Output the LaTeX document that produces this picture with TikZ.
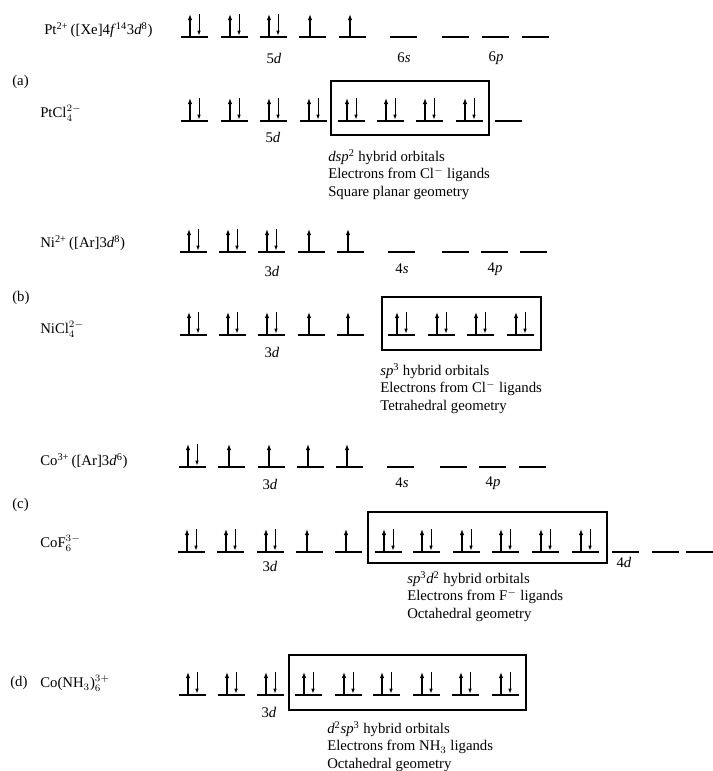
\documentclass[tikz,border=0pt]{standalone}
\usepackage{fontspec}
\setmainfont{Liberation Serif}
\usetikzlibrary{arrows.meta}
\newcommand\lbfont{\fontsize{10.5}{12.2}\selectfont}
\tikzset{
  orb-line/.style={line width=1pt},
  spin-up/.style={line width=1.1pt,-{Latex[length=1.5mm,width=1.1mm]}},
  spin-dn/.style={line width=0.6pt,-{Latex[length=1.2mm,width=0.9mm]}},
  hyb-box/.style={line width=0.8pt},
  lbl/.style={anchor=west,inner sep=0pt,font=\lbfont},
  sub-lbl/.style={inner sep=0pt,font=\lbfont},
  hyb-text/.style={anchor=north west,inner sep=0pt,align=left,font=\lbfont},
  % one orbital: a bar, with two, one or no electrons
  orb-pair/.pic={\draw[orb-line] (0,0) -- (27,0);
    \draw[spin-up] (9,0) -- (9,-23);
    \draw[spin-dn] (18,-23) -- (18,-1.5);},
  orb-up/.pic={\draw[orb-line] (0,0) -- (27,0);
    \draw[spin-up] (11,0) -- (11,-23);},
  orb-empty/.pic={\draw[orb-line] (0,0) -- (27,0);},
}
\begin{document}
\begin{tikzpicture}[x=0.25mm,y=-0.25mm]
  \useasboundingbox (0,0) rectangle (713,771);

  % (a) Pt(II)
  \node[lbl] (pt) at (44,30)
    {Pt\textsuperscript{2+}\,([Xe]4\textit{f}\textsuperscript{14}3\textit{d}\textsuperscript{8})};
  \foreach \x in {181,221,260} \pic at (\x,37) {orb-pair};
  \foreach \x in {299,339} \pic at (\x,37) {orb-up};
  \foreach \x in {390,442,482,522} \pic at (\x,37) {orb-empty};
  \node[sub-lbl] (pt-5d) at (274,58) {5\textit{d}};
  \node[sub-lbl] (pt-6s) at (404,58) {6\textit{s}};
  \node[sub-lbl] (pt-6p) at (496,58) {6\textit{p}};
  \node[lbl] (tag-a) at (12,82) {(a)};

  \node[lbl] (ptcl) at (40,113) {PtCl$_4^{2-}$};
  \foreach \x in {181,221,260,300,338,377,416,456} \pic at (\x,121) {orb-pair};
  \pic at (495,121) {orb-empty};
  \draw[hyb-box] (331,81) rectangle (489,135);
  \node[sub-lbl] (ptcl-5d) at (273,137) {5\textit{d}};
  \node[hyb-text] (ptcl-hyb) at (328,149)
    {\textit{dsp}\textsuperscript{2} hybrid orbitals\\
     Electrons from Cl\textsuperscript{$-$} ligands\\
     Square planar geometry};

  % (b) Ni(II)
  \node[lbl] (ni) at (40,243)
    {Ni\textsuperscript{2+}\,([Ar]3\textit{d}\textsuperscript{8})};
  \foreach \x in {180,219,258} \pic at (\x,252) {orb-pair};
  \foreach \x in {298,337} \pic at (\x,252) {orb-up};
  \foreach \x in {388,442,481,520} \pic at (\x,252) {orb-empty};
  \node[sub-lbl] (ni-3d) at (272,271) {3\textit{d}};
  \node[sub-lbl] (ni-4s) at (402,269) {4\textit{s}};
  \node[sub-lbl] (ni-4p) at (495,269) {4\textit{p}};
  \node[lbl] (tag-b) at (12,298) {(b)};

  \node[lbl] (nicl) at (40,329) {NiCl$_4^{2-}$};
  \foreach \x in {180,219,258,388,428,467,507} \pic at (\x,335) {orb-pair};
  \foreach \x in {298,337} \pic at (\x,335) {orb-up};
  \draw[hyb-box] (382,297) rectangle (541,350);
  \node[sub-lbl] (nicl-3d) at (272,352) {3\textit{d}};
  \node[hyb-text] (nicl-hyb) at (380,363)
    {\textit{sp}\textsuperscript{3} hybrid orbitals\\
     Electrons from Cl\textsuperscript{$-$} ligands\\
     Tetrahedral geometry};

  % (c) Co(III), high spin
  \node[lbl] (co) at (40,461)
    {Co\textsuperscript{3+}\,([Ar]3\textit{d}\textsuperscript{6})};
  \pic at (179,467) {orb-pair};
  \foreach \x in {218,258,297,336} \pic at (\x,467) {orb-up};
  \foreach \x in {387,440,479,519} \pic at (\x,467) {orb-empty};
  \node[sub-lbl] (co-3d) at (270,484) {3\textit{d}};
  \node[sub-lbl] (co-4s) at (402,483) {4\textit{s}};
  \node[sub-lbl] (co-4p) at (493,483) {4\textit{p}};
  \node[lbl] (tag-c) at (12,505) {(c)};

  \node[lbl] (cof) at (40,543) {CoF$_6^{3-}$};
  \foreach \x in {178,217,257,375,413,453,492,532,572} \pic at (\x,552) {orb-pair};
  \foreach \x in {296,335} \pic at (\x,552) {orb-up};
  \foreach \x in {612,652,686} \pic at (\x,552) {orb-empty};
  \draw[hyb-box] (368,512) rectangle (607,563);
  \node[sub-lbl] (cof-3d) at (270,566) {3\textit{d}};
  \node[sub-lbl] (cof-4d) at (624,562) {4\textit{d}};
  \node[hyb-text] (cof-hyb) at (407,571)
    {\textit{sp}\textsuperscript{3}\textit{d}\textsuperscript{2} hybrid orbitals\\
     Electrons from F\textsuperscript{$-$} ligands\\
     Octahedral geometry};

  % (d) Co(III), low spin
  \node[lbl] (tag-d) at (10,683) {(d)};
  \node[lbl] (coam) at (40,683) {Co(NH$_3$)$_6^{3+}$};
  \foreach \x in {179,218,257,295,335,373,413,452,492} \pic at (\x,695) {orb-pair};
  \draw[hyb-box] (289,655) rectangle (526,710);
  \node[sub-lbl] (coam-3d) at (269,712) {3\textit{d}};
  \node[hyb-text] (coam-hyb) at (327,721)
    {\textit{d}\textsuperscript{2}\textit{sp}\textsuperscript{3} hybrid orbitals\\
     Electrons from NH$_3$ ligands\\
     Octahedral geometry};
\end{tikzpicture}
\end{document}
